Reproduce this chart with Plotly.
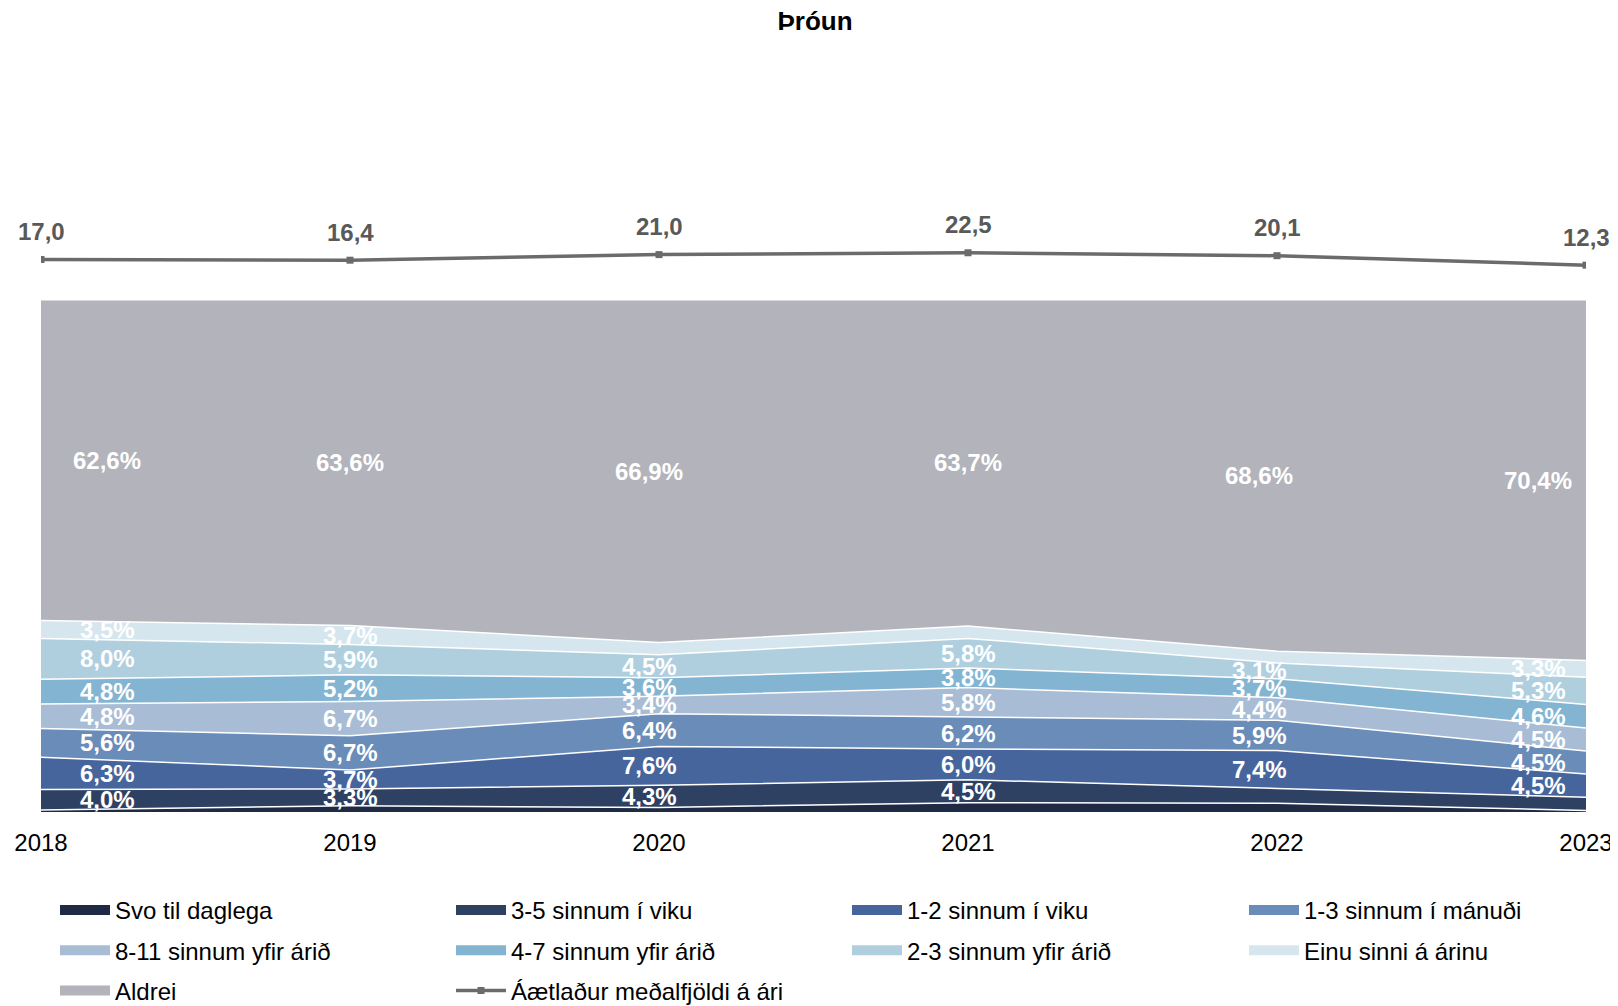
import plotly.graph_objects as go

# Gögn lesin af myndinni
years = [2018, 2019, 2020, 2021, 2022, 2023]

svo_til_daglega = [0.4, 1.2, 0.9, 1.8, 1.7, 0.3]
sinnum_3_5_viku = [4.0, 3.3, 4.3, 4.5, 2.9, 2.6]
sinnum_1_2_viku = [6.3, 3.7, 7.6, 6.0, 7.4, 4.5]
sinnum_1_3_manudi = [5.6, 6.7, 6.4, 6.2, 5.9, 4.5]
sinnum_8_11_ari = [4.8, 6.7, 3.4, 5.8, 4.4, 4.5]
sinnum_4_7_ari = [4.8, 5.2, 3.6, 3.8, 3.7, 4.6]
sinnum_2_3_ari = [8.0, 5.9, 4.5, 5.8, 3.1, 5.3]
einu_sinni = [3.5, 3.7, 2.4, 2.4, 2.3, 3.3]
aldrei = [62.6, 63.6, 66.9, 63.7, 68.6, 70.4]

medalfjoldi = [17.0, 16.4, 21.0, 22.5, 20.1, 12.3]
line_name = "Áætlaður meðalfjöldi á ári"

series = [
    ("Svo til daglega", svo_til_daglega, "#1f2a44"),
    ("3-5 sinnum í viku", sinnum_3_5_viku, "#2f4163"),
    ("1-2 sinnum í viku", sinnum_1_2_viku, "#47659d"),
    ("1-3 sinnum í mánuði", sinnum_1_3_manudi, "#6a8cb8"),
    ("8-11 sinnum yfir árið", sinnum_8_11_ari, "#a8bdd5"),
    ("4-7 sinnum yfir árið", sinnum_4_7_ari, "#83b5d3"),
    ("2-3 sinnum yfir árið", sinnum_2_3_ari, "#afcfdf"),
    ("Einu sinni á árinu", einu_sinni, "#d5e6ee"),
    ("Aldrei", aldrei, "#b3b3bc"),
]

FONT = "Liberation Sans, Arial, sans-serif"
label_xshift = [66, 0, -10, 0, -18, -48]

# vafrinn setur 8px spássíu um síðuna, hnit hér eru miðuð við myndina
W, H = 1610, 998
legend_ids = ["legend", "legend2", "legend3", "legend4"]
legend_x = [47, 443, 839, 1236]

fig = go.Figure()

# legend-færslur (kassar) í fjórum dálkum
for i, (name, vals, color) in enumerate(series):
    fig.add_trace(go.Scatter(
        x=[None], y=[None], name=name, mode="lines",
        line=dict(color=color, width=14),
        legend=legend_ids[i % 4], legendgroup=name,
    ))

annotations = []
base = [0.0] * len(years)
for name, vals, color in series:
    fig.add_trace(go.Scatter(
        x=years, y=vals, name=name, stackgroup="one", mode="lines",
        line=dict(color="white", width=1.5), fillcolor=color,
        showlegend=False,
    ))
    for i, v in enumerate(vals):
        if v >= 3.0:
            annotations.append(dict(
                x=years[i], y=base[i] + v / 2, xref="x", yref="y",
                text=f"{v:.1f}%".replace(".", ","), showarrow=False,
                xshift=label_xshift[i],
                font=dict(family=FONT, size=24, color="white", weight="bold"),
            ))
    base = [b + v for b, v in zip(base, vals)]

fig.add_trace(go.Scatter(
    x=years, y=medalfjoldi, name=line_name, yaxis="y2",
    mode="lines+markers", line=dict(color="#6b6b6b", width=3.5),
    marker=dict(symbol="square", size=7, color="#6b6b6b"),
    legend=legend_ids[len(series) % 4], legendgroup=line_name,
))
for i, v in enumerate(medalfjoldi):
    annotations.append(dict(
        x=years[i], y=v, xref="x", yref="y2", yshift=28,
        text=f"{v:.1f}".replace(".", ","), showarrow=False,
        font=dict(family=FONT, size=24, color="#595959", weight="bold"),
    ))

# hver dálkur er lárétt legend þar sem hver færsla fer í nýja línu
legends = {}
for k, lid in enumerate(legend_ids):
    legends[lid] = dict(
        orientation="h", traceorder="grouped", tracegroupgap=6,
        x=legend_x[k] / W, xref="container", xanchor="left",
        y=1 - 880 / H, yref="container", yanchor="top",
        itemwidth=50, entrywidth=800, entrywidthmode="pixels",
        bgcolor="rgba(0,0,0,0)",
        font=dict(size=24, color="black"),
    )

fig.update_layout(
    width=W, height=H,
    paper_bgcolor="white", plot_bgcolor="white",
    margin=dict(l=33, r=32, t=192, b=194),
    font=dict(family=FONT, size=24, color="black"),
    title=dict(text="<b>Þróun</b>", x=(815 - 8) / W, xanchor="center",
               y=1 - 13 / H, yanchor="middle", yref="container",
               font=dict(size=26, color="black")),
    xaxis=dict(type="linear", range=[2018, 2023], tickvals=years,
               showgrid=False, zeroline=False, showline=False, ticks="",
               ticklabelstandoff=14, ticklabeloverflow="allow",
               automargin=False,
               tickfont=dict(size=24, color="black")),
    yaxis=dict(type="linear", range=[0, 119.5], visible=False,
               showgrid=False, automargin=False),
    yaxis2=dict(type="linear", range=[-437.4, 65.9], overlaying="y",
                visible=False, showgrid=False, automargin=False),
    showlegend=True,
    annotations=annotations,
    **legends,
)

fig.write_html("out.html")
